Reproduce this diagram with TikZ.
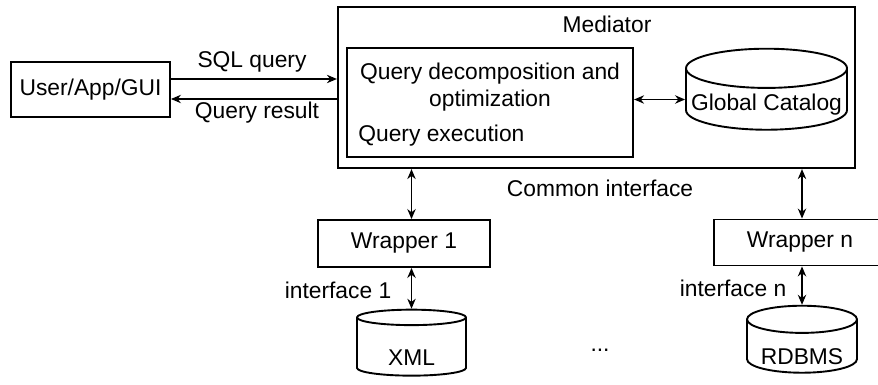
\documentclass[tikz,border=0pt]{standalone}
\usepackage{fontspec}
\setmainfont{Liberation Sans}
\usepackage{tikz}
\usetikzlibrary{arrows.meta,shapes.geometric}

\begin{document}
\begin{tikzpicture}[x=0.5pt, y=-0.5pt, >={Stealth[length=5pt,width=4.2pt]},
    font=\fontsize{11.4}{13.5}\selectfont,
    box/.style={draw, line width=0.95pt, inner sep=0pt},
    dbase/.style={draw, line width=0.95pt, cylinder, shape border rotate=90, aspect=0.26, inner sep=0pt},
    link/.style={<->, line width=0.6pt}]

    %% Background
    \useasboundingbox (0,0) rectangle (878,385);
    \clip (0,0) rectangle (878,385);

    %% Client and mediator
    \node[box, minimum width=79.5pt, minimum height=27.5pt] (user) at (90.5,89.5) {User/App/GUI};
    \node[box, line width=1.1pt, minimum width=258.5pt, minimum height=80.5pt] (med) at (596.5,87.5) {};
    \node (medlbl) at (607,24) {Mediator};
    \node[box, line width=1.1pt, minimum width=143pt, minimum height=54.5pt] (qproc) at (490,102.5) {};
    \node[align=center] (qdec) at (490,87) {Query decomposition and\\optimization};
    \node[anchor=west, inner sep=0pt] (qexec) at (358,136) {Query execution};
    \node[dbase, minimum width=80.5pt, minimum height=32.5pt] (gcat) at (766.5,99.5) {\raisebox{-2.5pt}[\height][\depth]{Global Catalog}};

    %% Wrappers and sources
    \node[box, minimum width=86pt, minimum height=23.5pt] (wrapA) at (404,243.5) {Wrapper 1};
    \node[box, minimum width=86pt, minimum height=23pt] (wrapN) at (800,242.5) {Wrapper n};
    \node[dbase, aspect=0.33, minimum width=54.5pt, minimum height=33pt] (xml) at (411.5,347) {\raisebox{-5.5pt}[\height][\depth]{XML}};
    \node[dbase, aspect=0.33, minimum width=55pt, minimum height=33.5pt] (rdbms) at (802,346.5) {\raisebox{-5pt}[\height][\depth]{RDBMS}};
    \node (dots) at (600,350) {...};

    %% Labels
    \node (sqlq) at (252,62) {SQL query};
    \node (qres) at (257,113) {Query result};
    \node (common) at (600,188) {Common interface};
    \node (ifA) at (338,290) {interface 1};
    \node (ifN) at (733,288) {interface n};

    %% Connectors
    \draw[->, line width=0.6pt] ([yshift=5.25pt]user.east) -- ([yshift=5.25pt]user.east -| med.west);
    \draw[<-, line width=0.6pt] ([yshift=-4.75pt]user.east) -- ([yshift=-4.75pt]user.east -| med.west);
    \draw[link] (gcat.west -| qproc.east) -- (gcat.west);
    \draw[link] (med.south -| xml.north) -- (wrapA.north -| xml.north);
    \draw[link] (wrapA.south -| xml.north) -- (xml.north);
    \draw[link] (med.south -| rdbms.north) -- (wrapN.north -| rdbms.north);
    \draw[link] (wrapN.south -| rdbms.north) -- (rdbms.north);

\end{tikzpicture}
\end{document}
